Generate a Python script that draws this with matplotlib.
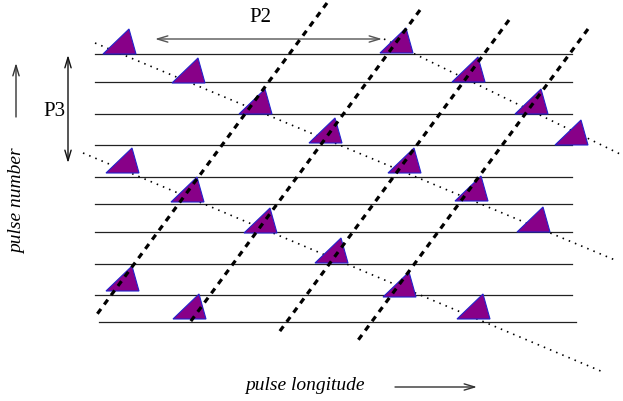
import matplotlib
matplotlib.use('Agg')
import matplotlib.pyplot as plt
from matplotlib.patches import Polygon

plt.rcParams['lines.scale_dashes'] = False
plt.rcParams['font.family'] = ['Liberation Serif', 'DejaVu Serif']

# pulse rows (vertical position of each pulse trace)
row_y = [54, 82, 114, 145, 177, 204, 232, 264, 295, 322]
row_x0 = [95, 95, 95, 95, 95, 95, 95, 95, 95, 99]
row_x1 = [572, 572, 572, 572, 572, 572, 572, 572, 572, 576]

# subpulses: left end of the base and base height
sub_x = [103, 380, 172, 452, 239, 515, 309, 555, 106, 388,
         171, 455, 244, 517, 315, 106, 383, 173, 457]
sub_y = [54, 53, 83, 82, 114, 114, 143, 145, 173, 173,
         202, 201, 233, 232, 263, 291, 297, 319, 319]

# drift bands (thick dashed), top end and bottom end
band_x0 = [327, 420, 509, 588]
band_y0 = [3, 10, 20, 29]
band_x1 = [95, 188, 277, 356]
band_y1 = [317, 325, 335, 343]

# dotted tracks of successive subpulses
track_x0 = [95, 384, 83]
track_y0 = [43, 39, 153]
track_x1 = [615, 622, 603]
track_y1 = [260, 155, 372]

fig = plt.figure(figsize=(6.23, 4.01), dpi=100)
ax = fig.add_axes([0, 0, 1, 1])
ax.set_xlim(0, 623)
ax.set_ylim(401, 0)
ax.axis('off')

for y, a, b in zip(row_y, row_x0, row_x1):
    ax.plot([a, b], [y, y], color='#222222', lw=0.9, zorder=1)

for a, b, c, d in zip(track_x0, track_y0, track_x1, track_y1):
    ax.plot([a, c], [b, d], color='black', lw=1.2, dashes=(1.1, 3.7), zorder=2)

# triangle shape
tw, tapex, th = 33, 26, 25
for x, y in zip(sub_x, sub_y):
    tri = Polygon([(x, y), (x + tw, y), (x + tapex, y - th)], closed=True,
                  facecolor='#880088', edgecolor='#2222cc', lw=0.8, zorder=3)
    ax.add_patch(tri)

for a, b, c, d in zip(band_x0, band_y0, band_x1, band_y1):
    ax.plot([a, c], [b, d], color='black', lw=2.3, dashes=(4.3, 4.0),
            solid_capstyle='butt', dash_capstyle='butt', zorder=4)

arrow_kw = dict(lw=1.0, shrinkA=0, shrinkB=0, mutation_scale=15)

# P2 spacing
ax.annotate('', xy=(155, 39), xytext=(382, 39),
            arrowprops=dict(arrowstyle='<->,head_length=0.5,head_width=0.15',
                            color='#555555', **arrow_kw))
ax.text(260, 17, 'P2', fontsize=15, ha='center', va='center')

# P3 spacing
ax.annotate('', xy=(68, 55), xytext=(68, 163),
            arrowprops=dict(arrowstyle='<->,head_length=0.5,head_width=0.15',
                            color='#111111', **arrow_kw))
ax.text(54, 111, 'P3', fontsize=15, ha='center', va='center')

# axis directions
ax.annotate('', xy=(16, 63), xytext=(16, 117),
            arrowprops=dict(arrowstyle='->,head_length=0.5,head_width=0.15',
                            color='#333333', **arrow_kw))
ax.text(18, 201, 'pulse number', fontsize=14, style='italic', rotation=90,
        ha='center', va='center')

ax.text(305, 385, 'pulse longitude', fontsize=14, style='italic',
        ha='center', va='center')
ax.annotate('', xy=(477, 387), xytext=(395, 387),
            arrowprops=dict(arrowstyle='->,head_length=0.5,head_width=0.15',
                            color='#333333', **arrow_kw))

fig.savefig('out.png', dpi=100)
